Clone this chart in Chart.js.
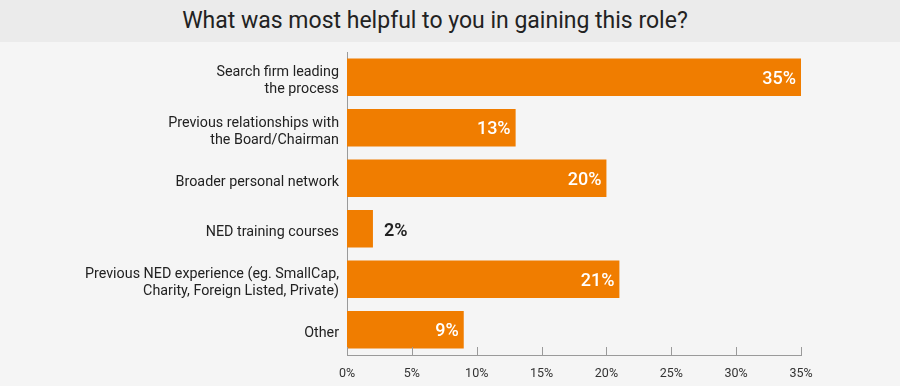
<!DOCTYPE html>
<html>
<head>
<meta charset="utf-8">
<script src="https://cdn.jsdelivr.net/npm/chart.js@4/dist/chart.umd.min.js"></script>
<style>
  body { margin: 0; background: #f5f5f5; width: 900px; height: 386px; overflow: hidden; }
  .title { height: 42px; line-height: 42px; background: #ebebeb; text-align: center;
           font-family: Roboto, sans-serif; font-size: 23px; color: #222; padding-right: 30px; }
  .wrap { position: relative; width: 900px; height: 344px; }
</style>
</head>
<body>
<div class="title">What was most helpful to you in gaining this role?</div>
<div class="wrap"><canvas id="myChart"></canvas></div>
<script>
// categories and values
const categories = [
    ['Search firm leading', 'the process'],
    ['Previous relationships with', 'the Board/Chairman'],
    'Broader personal network',
    'NED training courses',
    ['Previous NED experience (eg. SmallCap,', 'Charity, Foreign Listed, Private)'],
    'Other'
];
const values = [35, 13, 20, 2, 21, 9];
const tickValues = [0, 5, 10, 15, 20, 25, 30, 35];

const orange = '#f07d00';
const axisGray = '#9a9a9a';

// small ticks pointing up from the x axis line
const xTicksUp = {
    id: 'xTicksUp',
    afterDraw(chart) {
        const ctx = chart.ctx;
        const x = chart.scales.x;
        const bottom = chart.chartArea.bottom;
        ctx.save();
        ctx.strokeStyle = axisGray;
        ctx.lineWidth = 1;
        tickValues.forEach(v => {
            const px = Math.round(x.getPixelForValue(v)) + 0.5;
            ctx.beginPath();
            ctx.moveTo(px, bottom - 8);
            ctx.lineTo(px, bottom);
            ctx.stroke();
        });
        ctx.restore();
    }
};

// value labels at the end of each bar
const barLabels = {
    id: 'barLabels',
    afterDatasetsDraw(chart) {
        const ctx = chart.ctx;
        const meta = chart.getDatasetMeta(0);
        ctx.save();
        ctx.textBaseline = 'middle';
        meta.data.forEach((bar, i) => {
            const txt = values[i] + '%';
            if (values[i] < 5) {
                ctx.font = '600 18px Roboto, sans-serif';
                ctx.fillStyle = '#222';
                ctx.textAlign = 'left';
                ctx.fillText(txt, bar.x + 11, bar.y + 3);
            } else {
                ctx.font = '500 18px Roboto, sans-serif';
                ctx.fillStyle = '#fff';
                ctx.textAlign = 'right';
                ctx.fillText(txt, bar.x - 5, bar.y + 2);
            }
        });
        ctx.restore();
    }
};

new Chart(document.getElementById('myChart'), {
    type: 'bar',
    data: {
        labels: categories,
        datasets: [{
            data: values,
            backgroundColor: orange,
            borderWidth: 0,
            categoryPercentage: 0.74,
            barPercentage: 1
        }]
    },
    options: {
        indexAxis: 'y',
        responsive: true,
        maintainAspectRatio: false,
        animation: false,
        layout: { padding: { top: 10, right: 99, left: 0, bottom: 0 } },
        plugins: {
            legend: { display: false },
            tooltip: { enabled: false }
        },
        scales: {
            x: {
                min: 0,
                max: 35,
                afterBuildTicks: scale => { scale.ticks = tickValues.map(v => ({ value: v })); },
                afterFit: scale => { scale.height = 31; scale.paddingLeft = 0; scale.paddingRight = 0; },
                grid: { display: false, drawTicks: false, tickLength: 0 },
                border: { display: true, color: axisGray, width: 1 },
                ticks: {
                    padding: 11,
                    color: '#333',
                    maxRotation: 0,
                    font: { family: 'Roboto, sans-serif', size: 12.5 },
                    callback: v => v + '%'
                }
            },
            y: {
                afterFit: scale => { scale.width = 347; scale.paddingTop = 0; scale.paddingBottom = 0; },
                grid: { display: false, drawTicks: false, tickLength: 0 },
                border: { display: true, color: axisGray, width: 1 },
                ticks: {
                    padding: 8,
                    labelOffset: 4,
                    color: '#222',
                    font: { family: 'Roboto, sans-serif', size: 14.3, lineHeight: 1.2 }
                }
            }
        }
    },
    plugins: [xTicksUp, barLabels]
});
</script>
</body>
</html>
